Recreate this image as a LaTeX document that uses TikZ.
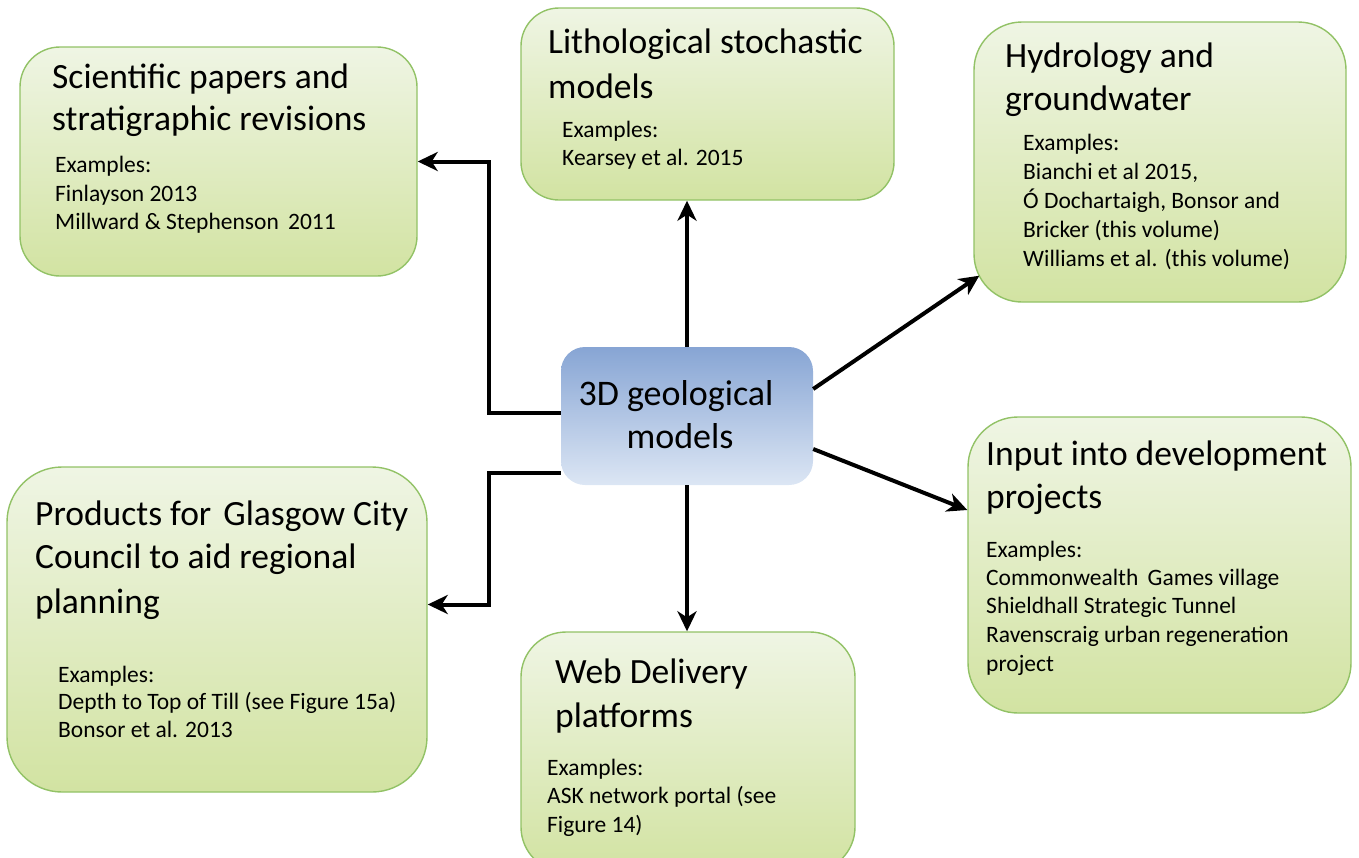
\documentclass[tikz,border=0pt]{standalone}
\usepackage{fontspec}
\setmainfont{Carlito}
\usetikzlibrary{arrows.meta}
\definecolor{gtop}{HTML}{EFF5E4}
\definecolor{gbot}{HTML}{D2E3A2}
\definecolor{gedge}{HTML}{92C266}
\definecolor{btop}{HTML}{87A5D4}
\definecolor{bbot}{HTML}{DCE6F4}
\tikzset{
  box/.style={draw=gedge, line width=1.4pt, top color=gtop, bottom color=gbot, inner sep=0pt},
  cbox/.style={draw=none, top color=btop, bottom color=bbot, inner sep=0pt},
  ttl/.style={anchor=base west, inner sep=0pt, font=\fontsize{35.5}{42}\selectfont},
  ctl/.style={anchor=base, inner sep=0pt, font=\fontsize{36}{43}\selectfont},
  sml/.style={anchor=base west, inner sep=0pt, font=\fontsize{23.5}{28}\selectfont},
  arr/.style={-{Stealth[length=20pt,width=19pt,inset=6pt]}, line width=4pt}
}
\begin{document}
\begin{tikzpicture}[x=1pt,y=-1pt]
\useasboundingbox (0,0) rectangle (1359,857);
\clip (0,0) rectangle (1359,857);

% boxes
\node[box, rounded corners=40pt, minimum width=397pt, minimum height=229pt] (sci) at (218.5,161.5) {};
\node[box, rounded corners=38pt, minimum width=373pt, minimum height=192pt] (lith) at (707.5,104) {};
\node[box, rounded corners=48pt, minimum width=372pt, minimum height=280pt] (hyd) at (1160,162) {};
\node[cbox, rounded corners=24pt, minimum width=252pt, minimum height=138pt] (c) at (687,416) {};
\node[box, rounded corners=55pt, minimum width=420pt, minimum height=325pt] (prod) at (217,629.5) {};
\node[box, rounded corners=50pt, minimum width=383pt, minimum height=296pt] (inp) at (1159.5,565) {};
\node[box, rounded corners=45pt, minimum width=334pt, minimum height=240pt] (web) at (688,752) {};

% scientific
\node[ttl] (sciT1) at (52,88) {Scientific papers and};
\node[ttl] (sciT2) at (52,130) {stratigraphic revisions};
\node[sml] (sciS1) at (55,172) {Examples:};
\node[sml] (sciS2) at (55,201) {Finlayson 2013};
\node[sml] (sciS3) at (55,229) {Millward \& Stephenson\hspace{4pt} 2011};

% lithological
\node[ttl] (lithT1) at (548,53) {Lithological stochastic};
\node[ttl] (lithT2) at (548,98) {models};
\node[sml] (lithS1) at (562,137) {Examples:};
\node[sml] (lithS2) at (562,165) {Kearsey et al. 2015};

% hydrology
\node[ttl] (hydT1) at (1005,67) {Hydrology and};
\node[ttl] (hydT2) at (1005,110) {groundwater};
\node[sml] (hydS1) at (1023,150) {Examples:};
\node[sml] (hydS2) at (1023,179) {Bianchi et al 2015,};
\node[sml] (hydS3) at (1023,208) {Ó Dochartaigh, Bonsor and};
\node[sml] (hydS4) at (1023,237) {Bricker (this volume)};
\node[sml] (hydS5) at (1023,266) {Williams et al. (this volume)};

% center
\node[ctl] (cT1) at (676,405) {3D geological};
\node[ctl] (cT2) at (680,448) {models};

% products
\node[ttl] (prodT1) at (35,525) {Products for\hspace{4pt} Glasgow City};
\node[ttl] (prodT2) at (35,568) {Council to aid regional};
\node[ttl] (prodT3) at (35,613) {planning};
\node[sml] (prodS1) at (58,682) {Examples:};
\node[sml] (prodS2) at (58,709) {Depth to Top of Till (see Figure 15a)};
\node[sml] (prodS3) at (58,737) {Bonsor et al. 2013};

% input
\node[ttl] (inpT1) at (986,465) {Input into development};
\node[ttl] (inpT2) at (986,508) {projects};
\node[sml] (inpS1) at (986,557) {Examples:};
\node[sml] (inpS2) at (986,585) {Commonwealth\hspace{4pt} Games village};
\node[sml] (inpS3) at (986,613) {Shieldhall Strategic Tunnel};
\node[sml] (inpS4) at (986,642) {Ravenscraig urban regeneration};
\node[sml] (inpS5) at (986,671) {project};

% web
\node[ttl] (webT1) at (555,683) {Web Delivery};
\node[ttl] (webT2) at (555,727) {platforms};
\node[sml] (webS1) at (547,775) {Examples:};
\node[sml] (webS2) at (547,803) {ASK network portal (see};
\node[sml] (webS3) at (547,832) {Figure 14)};

% connectors
\draw[arr] ([yshift=3pt]c.west) -- ++(-72,0) |- (sci.east);
\draw[arr] ([yshift=-57pt]c.west) -- ++(-72,0) |- ([yshift=25pt]prod.east);
\draw[arr] (c.north) -- (c.north |- lith.south);
\draw[arr] (c.south) -- (c.south |- web.north);
\draw[arr] ([yshift=27pt]c.east) -- ([shift={(6pt,27pt)}]hyd.south west);
\draw[arr] ([yshift=-33pt]c.east) -- ([yshift=55pt]inp.west);
\end{tikzpicture}
\end{document}
